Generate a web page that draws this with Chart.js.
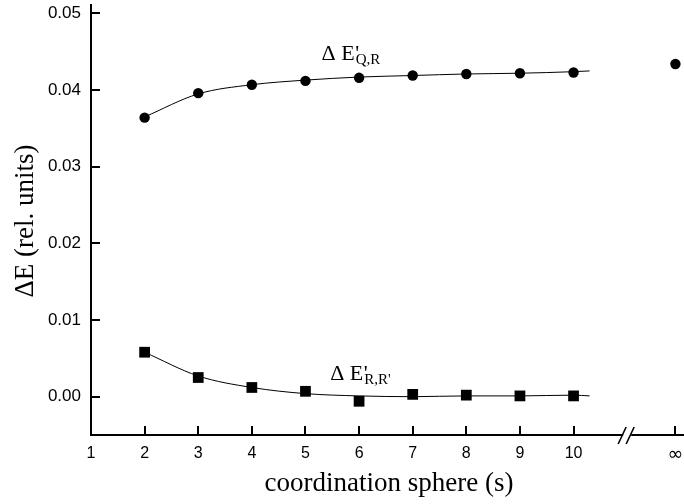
<!DOCTYPE html>
<html>
<head>
<meta charset="utf-8">
<script src="https://cdn.jsdelivr.net/npm/chart.js@4.4.1/dist/chart.umd.min.js"></script>
<style>
  html, body { margin: 0; padding: 0; background: #fff; overflow: hidden; }
  #wrap { width: 684px; height: 504px; }
  canvas { display: block; }
</style>
</head>
<body>
<div id="wrap"><canvas id="grafico"></canvas></div>
<script>
// valores
const esferas = [2, 3, 4, 5, 6, 7, 8, 9, 10];
const deltaQR = [0.0364, 0.0396, 0.0407, 0.0412, 0.0416, 0.0419, 0.0421, 0.0422, 0.0423];
const deltaRR = [0.0058, 0.0025, 0.0012, 0.0007, -0.0006, 0.0003, 0.0002, 0.0001, 0.0001];
const esferaInf = 11.9;
const deltaQRInf = 0.0434;

// curvas de ajuste (lidas ponto a ponto)
const ajusteX = [2, 3, 4, 5, 6, 7, 8, 9, 10, 10.3];
const ajusteQR = [0.0365, 0.0395, 0.0407, 0.0413, 0.0417, 0.0419, 0.0421, 0.0422, 0.0424, 0.0425];
const ajusteRR = [0.0058, 0.0027, 0.0012, 0.0004, 0.0001, 0.0000, 0.0001, 0.0001, 0.0002, 0.0001];

const ticksX = [1, 2, 3, 4, 5, 6, 7, 8, 9, 10, 11.9];
const rotulosX = ['1', '2', '3', '4', '5', '6', '7', '8', '9', '10', '∞'];
const ticksY = [0, 0.01, 0.02, 0.03, 0.04, 0.05];

const SERIF = '"Liberation Serif", "Times New Roman", serif';
const SANS = '"Liberation Sans", Arial, sans-serif';

const pares = (xs, ys) => xs.map((x, i) => ({ x: x, y: ys[i] }));

function rotuloSerie(ctx, x, y, sub) {
    ctx.font = '22px ' + SERIF;
    ctx.textAlign = 'left';
    ctx.textBaseline = 'alphabetic';
    ctx.fillText('Δ E', x, y);
    const w = ctx.measureText('Δ E').width;
    ctx.fillText("'", x + w + 0.5, y);
    ctx.font = '15px ' + SERIF;
    ctx.fillText(sub, x + w + 1, y + 4);
}

const extras = {
    id: 'extras',
    afterDraw(chart) {
        const { ctx, scales: { x, y }, chartArea: a } = chart;
        ctx.save();
        ctx.strokeStyle = '#000';
        ctx.fillStyle = '#000';
        ctx.lineWidth = 2;
        // marcas internas
        ctx.beginPath();
        ticksY.forEach(v => { const py = Math.round(y.getPixelForValue(v)); ctx.moveTo(a.left, py); ctx.lineTo(a.left + 9, py); });
        ticksX.slice(1).forEach(v => { const px = Math.round(x.getPixelForValue(v)); ctx.moveTo(px, a.bottom); ctx.lineTo(px, a.bottom - 9); });
        ctx.stroke();
        // quebra do eixo
        const bx = x.getPixelForValue(11.0);
        ctx.fillStyle = '#fff';
        ctx.fillRect(bx - 4, a.bottom - 2, 8, 4);
        ctx.fillStyle = '#000';
        ctx.lineWidth = 1.6;
        ctx.beginPath();
        ctx.moveTo(bx - 9, a.bottom + 9); ctx.lineTo(bx - 1, a.bottom - 8);
        ctx.moveTo(bx - 1, a.bottom + 9); ctx.lineTo(bx + 7, a.bottom - 8);
        ctx.stroke();
        // rótulos das séries
        rotuloSerie(ctx, x.getPixelForValue(5.30), y.getPixelForValue(0.0439), 'Q,R');
        rotuloSerie(ctx, x.getPixelForValue(5.46), y.getPixelForValue(0.0022), "R,R'");
        // títulos dos eixos
        ctx.font = '27px ' + SERIF;
        ctx.textAlign = 'center';
        ctx.textBaseline = 'alphabetic';
        ctx.fillText('coordination sphere (s)', 389, 491);
        ctx.translate(33, 221);
        ctx.rotate(-Math.PI / 2);
        ctx.fillText('ΔE (rel. units)', 0, 0);
        ctx.restore();
    }
};

new Chart(document.getElementById('grafico'), {
    type: 'scatter',
    data: {
        datasets: [
            { data: pares(ajusteX, ajusteQR), showLine: true, borderColor: '#000', borderWidth: 1, pointRadius: 0, cubicInterpolationMode: 'monotone' },
            { data: pares(ajusteX, ajusteRR), showLine: true, borderColor: '#000', borderWidth: 1, pointRadius: 0, cubicInterpolationMode: 'monotone' },
            { data: pares(esferas, deltaQR).concat([{ x: esferaInf, y: deltaQRInf }]), pointStyle: 'circle', pointRadius: 5.2, backgroundColor: '#000', borderColor: '#000', borderWidth: 0 },
            { data: pares(esferas, deltaRR), pointStyle: 'rect', pointRadius: 7.6, backgroundColor: '#000', borderColor: '#000', borderWidth: 0 }
        ]
    },
    options: {
        animation: false,
        responsive: true,
        maintainAspectRatio: false,
        layout: { autoPadding: false, padding: { top: 5, right: 0, left: 0, bottom: 0 } },
        plugins: { legend: { display: false }, tooltip: { enabled: false } },
        scales: {
            x: {
                type: 'linear', min: 1, max: 12.06,
                afterBuildTicks: s => { s.ticks = ticksX.map(v => ({ value: v })); },
                afterFit: s => { s.height = 69; s.paddingLeft = 0; s.paddingRight = 0; },
                ticks: {
                    callback: (v, i) => rotulosX[i], color: '#000', padding: 9, autoSkip: false, maxRotation: 0,
                    font: c => (rotulosX[c.index] === '∞' ? { family: '"DejaVu Sans", sans-serif', size: 19 } : { family: SANS, size: 16 })
                },
                grid: { display: false, drawTicks: false, tickLength: 0 },
                border: { color: '#000', width: 2 }
            },
            y: {
                type: 'linear', min: -0.005, max: 0.0511,
                afterBuildTicks: s => { s.ticks = ticksY.map(v => ({ value: v })); },
                afterFit: s => { s.width = 91; s.paddingTop = 0; s.paddingBottom = 0; },
                ticks: { callback: v => v.toFixed(2), color: '#000', font: { family: SANS, size: 17 }, padding: 10 },
                grid: { display: false, drawTicks: false, tickLength: 0 },
                border: { color: '#000', width: 2 }
            }
        }
    },
    plugins: [extras]
});
</script>
</body>
</html>
